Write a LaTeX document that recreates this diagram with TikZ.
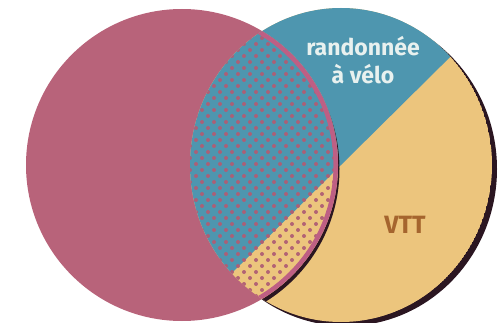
\documentclass[tikz,border=0pt]{standalone}
\usepackage{fontspec}
\setmainfont{Fira Sans}
\definecolor{rose}{HTML}{B8637A}
\definecolor{roseband}{HTML}{BE5F84}
\definecolor{bleu}{HTML}{4E96AF}
\definecolor{jaune}{HTML}{ECC57D}
\definecolor{ombre}{HTML}{2B1621}
\definecolor{clair}{HTML}{E8F1EF}
\definecolor{brun}{HTML}{A5652E}
\tikzset{
  label/.style={font=\bfseries\fontsize{23}{28}\selectfont, align=center},
  dot/.style={fill=rose!95!black, opacity=0.95}
}
\newcommand{\rightdisc}{(341,165) ellipse [x radius=151pt, y radius=157pt]}
\newcommand{\leftdisc}{(182,165) circle (156pt)}
\newcommand{\bluehalf}{(641,-132) -- (41,462) -- (-359,62) -- (241,-532) -- cycle}
\begin{document}
\begin{tikzpicture}[x=1pt,y=-1pt]
\useasboundingbox (0,0) rectangle (498,323);

\fill[ombre] (346,169) ellipse [x radius=151pt, y radius=157pt];
\begin{scope}
  \clip \rightdisc;
  \fill[jaune] \rightdisc;
  \fill[bleu] \bluehalf;
  \fill[ombre] (183.5,169) circle (156pt);
\end{scope}
\fill[rose] \leftdisc;

\begin{scope}
  \clip \rightdisc;
  \clip \leftdisc;
  \fill[jaune] \rightdisc;
  \fill[bleu] \bluehalf;
  \foreach \i in {0,...,13}
    \foreach \j in {0,...,50}
      \fill[dot] ({184+12*\i+6*mod(\j,2)}, {8+6*\j}) circle (2pt);
  \draw[roseband, line width=9pt] \leftdisc;
\end{scope}

\node[label, text=clair] (velo) at (363,60) {randonnée\\à vélo};
\node[label, text=brun, anchor=base, font=\bfseries\fontsize{25}{30}\selectfont] (vtt) at (405,234) {VTT};
\end{tikzpicture}
\end{document}
